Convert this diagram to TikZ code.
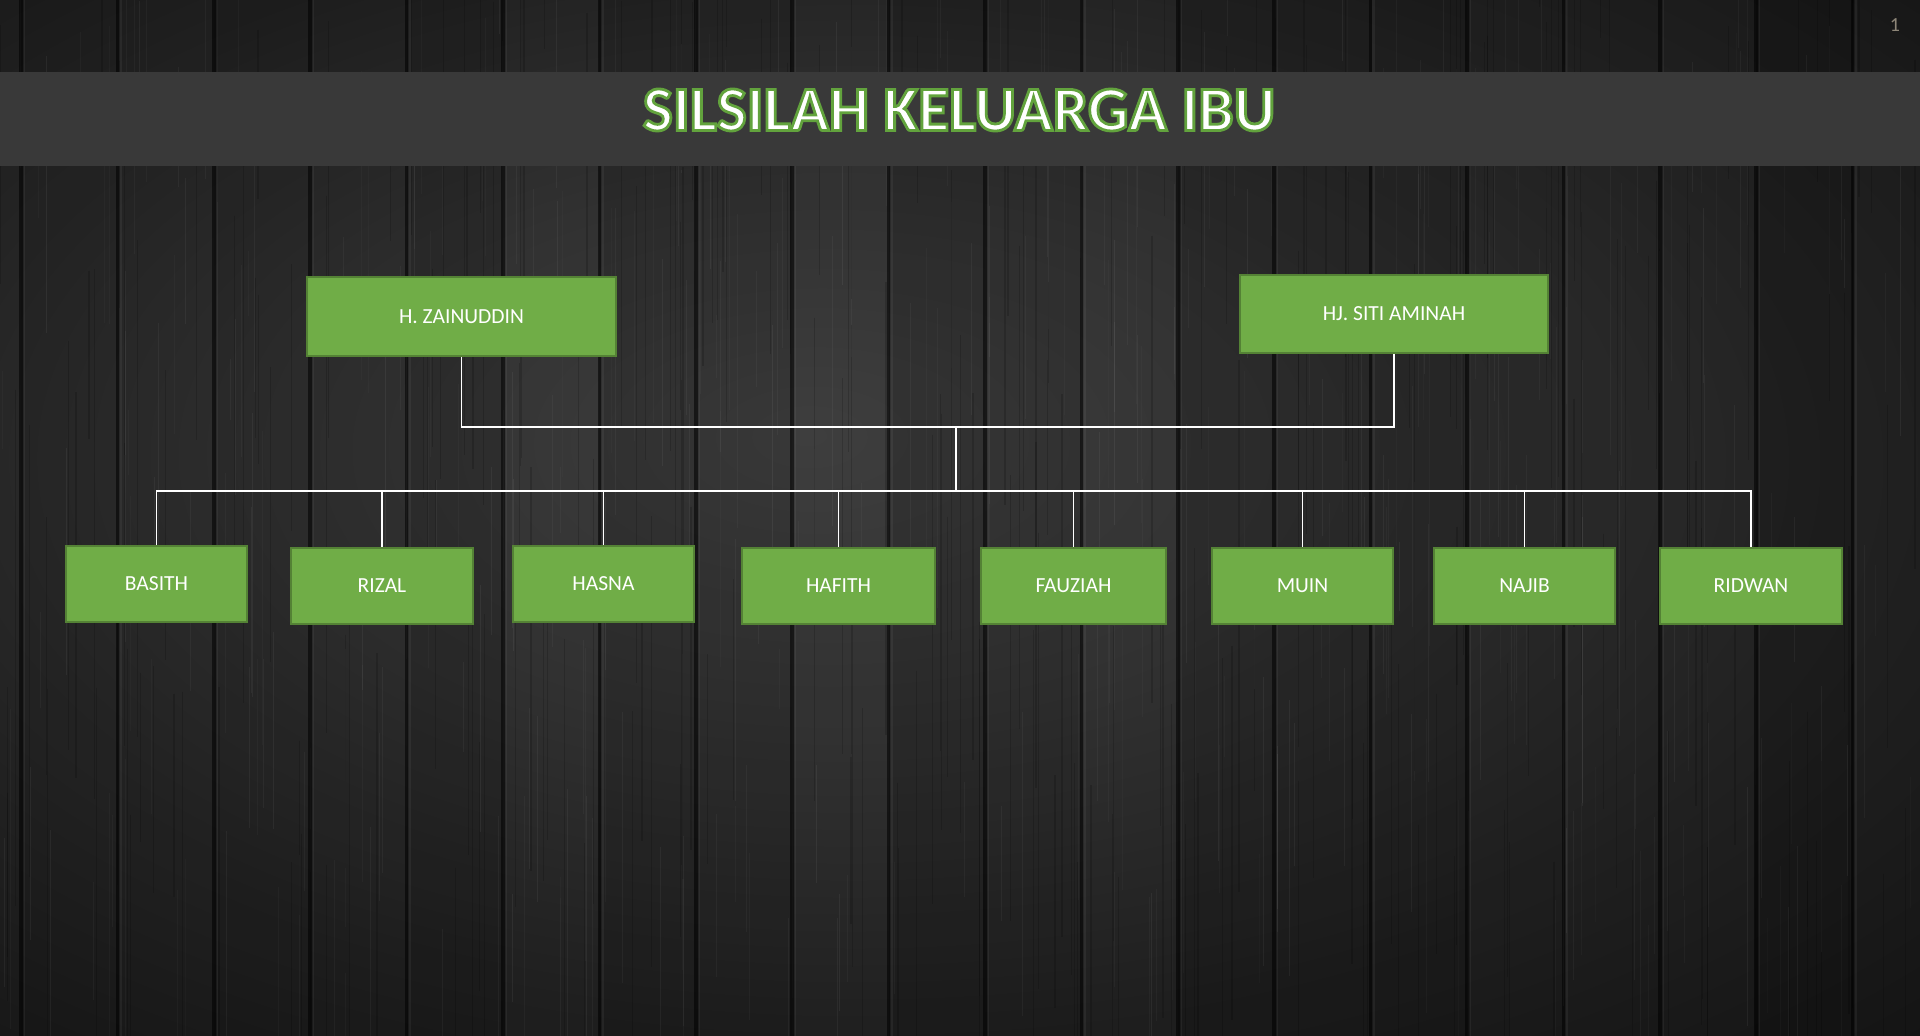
\documentclass[tikz,border=0pt]{standalone}
\usepackage{fontspec}
\setmainfont{Carlito}
\definecolor{woodlight}{HTML}{404040}
\definecolor{woodsoft}{HTML}{333333}
\definecolor{woodmid}{HTML}{212121}
\definecolor{wooddark}{HTML}{0F0F0F}
\definecolor{barcolor}{HTML}{393939}
\definecolor{boxgreen}{HTML}{70AD47}
\definecolor{boxedge}{HTML}{548235}
\definecolor{pagenum}{HTML}{8E8678}
\pgfdeclareradialshading{vignette}{\pgfpoint{-4bp}{4bp}}{color(0bp)=(woodlight); color(13bp)=(woodsoft); color(27bp)=(woodmid); color(44bp)=(wooddark); color(75bp)=(wooddark)}
% 白字描绿边 (文字渲染模式 2: 填充加描边)
\newcommand\greenrim[1]{\special{pdf:code 2 Tr 2.8 w 0.384 0.639 0.239 RG}#1\special{pdf:code 0 Tr}}

\begin{document}
\begin{tikzpicture}[x=1pt, y=-1pt,
    person/.style={draw=boxedge, fill=boxgreen, line width=2.5pt, text=white,
      font=\fontsize{21.5}{24}\selectfont, inner sep=0pt},
    parent/.style={person, minimum width=309pt, minimum height=79pt},
    child/.style={person, minimum width=181pt, minimum height=76pt},
    link/.style={white, line width=1.5pt}]
    \useasboundingbox (0,0) rectangle (1920,1036);

    % 背景: 深色木板, 中间稍亮
    \shade[shading=vignette] (0,0) rectangle (1920,1036);
    \pgfmathsetseed{2718}
    \foreach \k in {0,...,19}{
      \pgfmathsetmacro\px{21+96.4*\k}
      \pgfmathsetmacro\po{rnd*0.2}
      \fill[black, opacity=\po] (\px,0) rectangle ++(96.4,1036);
    }
    % 木纹细线
    \foreach \i in {1,...,360}{
      \pgfmathsetmacro\gx{rnd*1920}
      \pgfmathsetmacro\gy{rnd*1036-100}
      \pgfmathsetmacro\gl{60+rnd*260}
      \pgfmathsetmacro\go{0.02+rnd*0.035}
      \draw[white, opacity=\go, line width=0.7pt] (\gx,\gy) -- ++(0,\gl);
    }
    \foreach \i in {1,...,260}{
      \pgfmathsetmacro\gx{rnd*1920}
      \pgfmathsetmacro\gy{rnd*1036-150}
      \pgfmathsetmacro\gl{150+rnd*400}
      \draw[black, opacity=0.16, line width=1.2pt] (\gx,\gy) -- ++(0,\gl);
    }
    % 木板之间的缝
    \foreach \k in {0,...,19}{
      \pgfmathsetmacro\px{21+96.4*\k}
      \draw[black, opacity=0.55, line width=3.5pt] (\px,0) -- (\px,1036);
      \draw[white, opacity=0.05, line width=1.5pt] (\px+3.5,0) -- (\px+3.5,1036);
    }

    % 标题栏和标题
    \fill[barcolor] (0,72) rectangle (1920,166);
    \node (title) [text=white, font=\fontsize{63.5}{70}\selectfont\bfseries]
      at (959,110) {\greenrim{SILSILAH KELUARGA IBU}};

    % 页码
    \node (page) [text=pagenum, font=\fontsize{20}{24}\selectfont] at (1895,25) {1};

    % 父母
    \node[parent] (zain) at (461.5,316.5) {H. ZAINUDDIN};
    \node[parent, minimum width=308pt, minimum height=78pt] (siti) at (1394,314) {HJ. SITI AMINAH};

    % 子女
    \node[child] (basith) at (156.5,584) {BASITH};
    \node[child, minimum width=182pt] (rizal) at (382,586) {RIZAL};
    \node[child] (hasna) at (603.5,584) {HASNA};
    \node[child, minimum width=193pt] (hafith) at (838.5,586) {HAFITH};
    \node[child, minimum width=185pt] (fauziah) at (1073.5,586) {FAUZIAH};
    \node[child] (muin) at (1302.5,586) {MUIN};
    \node[child] (najib) at (1524.5,586) {NAJIB};
    \node[child, minimum width=182pt] (ridwan) at (1751,586) {RIDWAN};

    % 连线
    \coordinate (join) at (956,427);
    \coordinate (bus) at (956,491);
    \draw[link] (zain.south) |- (join);
    \draw[link] (siti.south) |- (join);
    \draw[link] (join) -- (bus);
    \foreach \c in {basith,rizal,hasna,hafith,fauziah,muin,najib,ridwan}
      \draw[link] (bus) -| (\c.north);
\end{tikzpicture}
\end{document}
